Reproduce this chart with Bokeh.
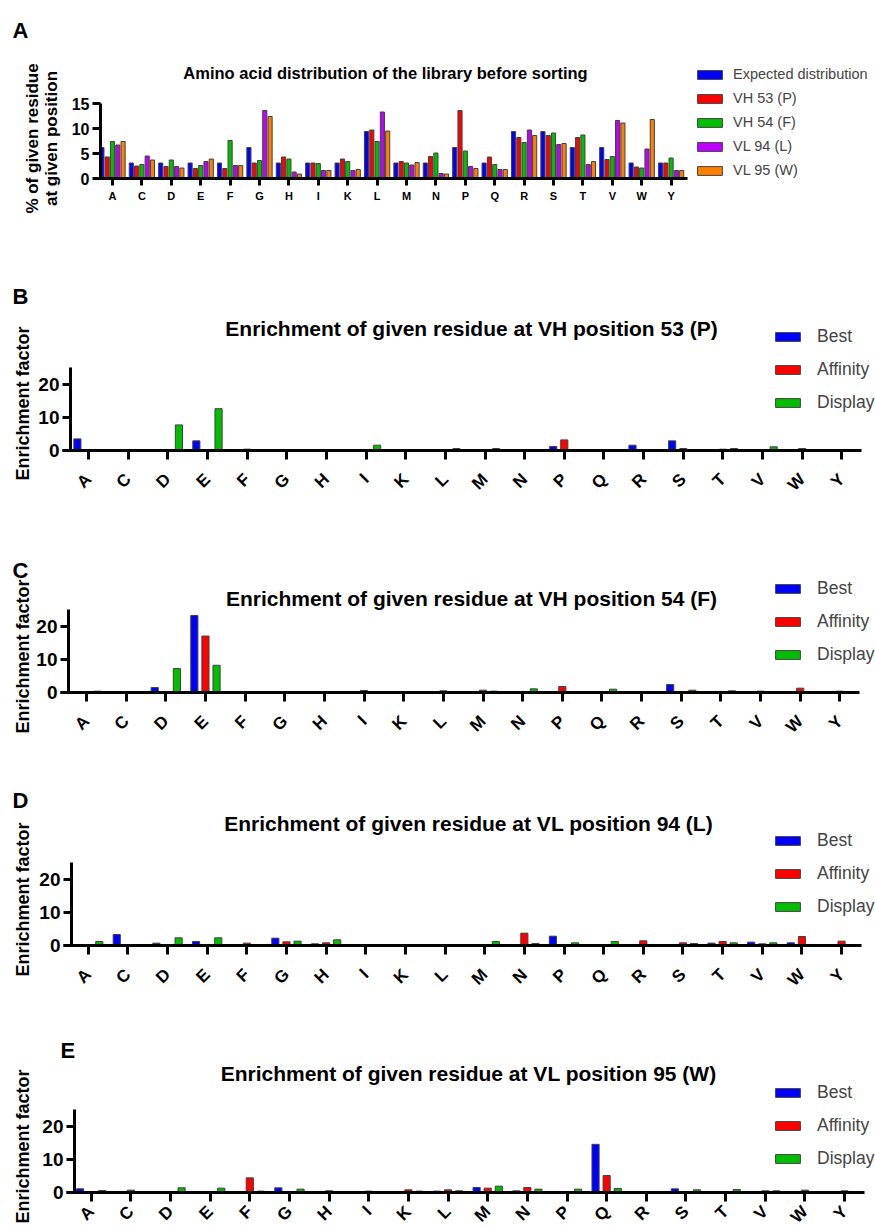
from math import pi
import numpy as np
from bokeh.plotting import figure
from bokeh.models import ColumnDataSource, Range1d, FixedTicker, Label, Legend, LegendItem
from bokeh.embed import file_html
from bokeh.resources import INLINE

FONT = "Liberation Sans"

aa = ["A", "C", "D", "E", "F", "G", "H", "I", "K", "L",
      "M", "N", "P", "Q", "R", "S", "T", "V", "W", "Y"]

# Panel A: % of given residue at given position
expected = [6.2, 3.1, 3.1, 3.1, 3.1, 6.2, 3.1, 3.1, 3.1, 9.4, 3.1, 3.1, 6.2, 3.1, 9.4, 9.4, 6.2, 6.2, 3.1, 3.1]
vh53 = [4.3, 2.5, 2.4, 2.0, 2.0, 3.1, 4.3, 3.1, 3.9, 9.7, 3.4, 4.4, 13.6, 4.3, 8.2, 8.6, 8.2, 3.8, 2.3, 3.1]
vh54 = [7.4, 2.8, 3.7, 2.6, 7.6, 3.6, 3.9, 3.0, 3.4, 7.4, 3.1, 5.1, 5.5, 2.8, 7.2, 9.1, 8.7, 4.4, 2.1, 4.1]
vl94 = [6.7, 4.5, 2.4, 3.4, 2.6, 13.6, 1.3, 1.6, 1.6, 13.3, 2.7, 1.0, 2.4, 1.8, 9.7, 6.8, 2.8, 11.6, 5.9, 1.6]
vl95 = [7.4, 3.7, 2.1, 3.9, 2.6, 12.4, 0.9, 1.6, 1.8, 9.5, 3.2, 0.9, 2.0, 1.8, 8.6, 7.0, 3.4, 11.1, 11.8, 1.6]
series_a = ["Expected distribution", "VH 53 (P)", "VH 54 (F)", "VL 94 (L)", "VL 95 (W)"]

# Panel B: VH position 53 (P)
b_best = [3.5, 0, 0, 2.9, 0, 0, 0, 0, 0, 0, 0, 0, 1.2, 0, 1.6, 2.9, 0, 0, 0, 0]
b_aff = [0, 0, 0, 0, 0.4, 0, 0, 0, 0, 0, 0, 0, 3.2, 0, 0, 0.6, 0.4, 0, 0.6, 0.3]
b_disp = [0, 0, 7.7, 12.6, 0, 0, 0, 1.6, 0, 0.6, 0.6, 0, 0, 0, 0, 0, 0.6, 1.1, 0, 0.3]

# Panel C: VH position 54 (F)
c_best = [0, 0, 1.5, 23.2, 0, 0, 0, 0, 0, 0, 0, 0, 0.3, 0, 0, 2.4, 0, 0, 0, 0]
c_aff = [0, 0, 0, 17.0, 0, 0, 0, 0.6, 0, 0.5, 0.7, 0, 1.8, 0, 0, 0, 0, 0.4, 1.3, 0.4]
c_disp = [0.4, 0, 7.2, 8.2, 0, 0.3, 0, 0, 0, 0, 0.4, 1.1, 0, 1.0, 0, 0.7, 0.5, 0, 0, 0]

# Panel D: VL position 94 (L)
d_best = [0, 3.4, 0.8, 1.3, 0, 2.3, 0.6, 0, 0, 0, 0, 0, 2.9, 0, 0, 0, 0.8, 1.1, 0.9, 0]
d_aff = [0.3, 0, 0, 0.4, 0.8, 1.2, 0.9, 0, 0, 0, 0, 3.8, 0.4, 0.3, 1.5, 0.9, 1.3, 0.6, 2.8, 1.4]
d_disp = [1.3, 0, 2.4, 2.4, 0.4, 1.4, 1.8, 0.3, 0.3, 0.3, 1.3, 0.7, 0.9, 1.3, 0, 0.7, 0.9, 0.9, 0.4, 0]

# Panel E: VL position 95 (W)
e_best = [1.2, 0, 0, 0, 0, 1.5, 0, 0, 0, 0.5, 1.6, 0.6, 0, 14.6, 0, 1.2, 0, 0, 0, 0]
e_aff = [0, 0.8, 0, 0, 4.5, 0, 0.6, 0.5, 0.9, 0.9, 1.4, 1.6, 0, 5.2, 0.2, 0, 0, 0.6, 0.8, 0.6]
e_disp = [0.7, 0, 1.5, 1.4, 0.5, 1.1, 0, 0, 0.5, 0.6, 2.0, 1.1, 1.1, 1.3, 0, 0.9, 1.0, 0.6, 0, 0]

series_enr = ["Best", "Affinity", "Display"]

COLORS_A = ["#0000FF", "#FF0000", "#00BF00", "#BF00FF", "#FF8000"]
COLORS_E = ["#0000FF", "#FF0000", "#00BF00"]
OUTLINE = "#404040"

W = 875


def make_fig(height, px_unit_x, tick0_px, px_unit_y, zero_px, yaxis_px, xline_px, xline_end,
             ytop, yticks, ytick_fs, xtick_fs, xorient):
    """Frame fills the whole canvas; axes are pinned inside it."""
    x0 = -tick0_px / px_unit_x
    x1 = (W - tick0_px) / px_unit_x
    y0 = -(height - zero_px) / px_unit_y
    y1 = zero_px / px_unit_y
    p = figure(width=W, height=height, x_range=Range1d(x0, x1), y_range=Range1d(y0, y1),
               output_backend="svg", toolbar_location=None,
               min_border=0, min_border_left=0, min_border_right=0,
               min_border_top=0, min_border_bottom=0)
    p.outline_line_color = None
    p.grid.visible = False
    for ax in (p.xaxis[0], p.yaxis[0]):
        ax.axis_line_width = 3
        ax.axis_line_color = "black"
        ax.major_tick_line_width = 3
        ax.major_tick_line_color = "black"
        ax.major_tick_in = 0
        ax.minor_tick_line_color = None
        ax.major_label_text_font = FONT
        ax.major_label_text_font_style = "bold"
        ax.major_label_text_color = "black"
    yax_x = (yaxis_px - tick0_px) / px_unit_x
    p.yaxis.fixed_location = yax_x
    p.yaxis.bounds = (0, ytop)
    p.yaxis.ticker = FixedTicker(ticks=yticks)
    p.yaxis.major_label_text_font_size = ytick_fs
    p.yaxis.major_tick_out = 8
    p.yaxis.major_label_standoff = 3
    p.xaxis.fixed_location = 0
    p.xaxis.bounds = ((xline_px - tick0_px) / px_unit_x, xline_end)
    p.xaxis.ticker = FixedTicker(ticks=list(range(len(aa))))
    p.xaxis.major_label_overrides = {i: a for i, a in enumerate(aa)}
    p.xaxis.major_label_text_font_size = xtick_fs
    p.xaxis.major_label_orientation = xorient
    return p


def add_label(p, x, y, text, size, bold=True, angle=0.0, align="center", lh=1.2):
    p.add_layout(Label(x=x, y=y, x_units="screen", y_units="screen", text=text,
                       text_font=FONT, text_font_size=size,
                       text_font_style="bold" if bold else "normal",
                       text_align=align, text_baseline="middle", angle=angle,
                       text_line_height=lh, text_color="black"))


def add_bars(p, series_list, names, colors, step, width):
    idx = np.arange(len(aa))
    n = len(series_list)
    items = []
    for k, (vals, name, col) in enumerate(zip(series_list, names, colors)):
        off = (k - (n - 1) / 2) * step
        src = ColumnDataSource(dict(x=idx + off, top=vals))
        r = p.vbar(x="x", top="top", width=width, source=src, fill_color=col,
                   line_color=OUTLINE, line_width=1)
        items.append(LegendItem(label=name, renderers=[r]))
    return items


def add_legend(p, items, loc, fs, spacing, standoff):
    lg = Legend(items=items, location=loc, orientation="vertical",
                glyph_width=31, glyph_height=11, label_height=11,
                label_text_font=FONT, label_text_font_size=fs,
                label_standoff=standoff, spacing=spacing, padding=0, margin=0,
                border_line_color=None, background_fill_alpha=0)
    p.add_layout(lg, "center")


# ---------------- Panel A (page rows 0..270) ----------------
HA = 270
pA = make_fig(HA, 29.4, 112, 5.0, 178, 100, 98, 19.56, 15, [0, 5, 10, 15],
              "16px", "11px", "horizontal")
pA.xaxis.major_tick_out = 7
pA.xaxis.major_label_standoff = 4
itemsA = add_bars(pA, [expected, vh53, vh54, vl94, vl95], series_a, COLORS_A, 0.18, 0.14)
add_legend(pA, itemsA, (694, HA - 178), "14.5px", 8, 8)
add_label(pA, 385, HA - 72, "Amino acid distribution of the library before sorting", "16.5px")
add_label(pA, 12, HA - 30, "A", "22px", align="left")
add_label(pA, 41.5, HA - 138, "% of given residue\nat given position", "17px",
          angle=pi / 2, lh=1.0)

# ---------------- Panels B-E ----------------
specs = [
    # fig top(page), height, tick0 px, zero px(page), y-axis px, x-line start px,
    # title, title y, letter, letter pos(page), ylabel y(page), legend bottom y(page),
    # x label standoff, data
    (270, 260, 88.0, 450.0, 70, 62, "Enrichment of given residue at VH position 53 (P)", 328,
     "B", (12, 296), 403, 413, 17, (b_best, b_aff, b_disp)),
    (530, 230, 86.0, 692.0, 68, 60, "Enrichment of given residue at VH position 54 (F)", 598,
     "C", (12, 570), 656, 665, 17, (c_best, c_aff, c_disp)),
    (760, 250, 87.7, 945.3, 71, 63, "Enrichment of given residue at VL position 94  (L)", 823,
     "D", (12, 800), 899, 917, 17, (d_best, d_aff, d_disp)),
    (1010, 217, 90.7, 1192.3, 74, 66, "Enrichment of given residue at VL position 95  (W)", 1073,
     "E", (60, 1050), 1146, 1169, 7, (e_best, e_aff, e_disp)),
]
figs = [pA]
for (top, h, t0, zp, yax, xl, title, ty, letter, lpos, yly, legb, xso, data) in specs:
    p = make_fig(h, 39.65, t0, 3.32, zp - top, yax, xl, 19.5, 25, [0, 10, 20],
                 "19px", "17px", pi / 4)
    p.xaxis.major_tick_out = 9
    p.xaxis.major_label_standoff = xso
    items = add_bars(p, list(data), series_enr, COLORS_E, 0.28, 0.18)
    bottom = top + h
    add_legend(p, items, (772, bottom - legb), "17.5px", 12, 14)
    add_label(p, 471, bottom - ty, title, "21px")
    add_label(p, lpos[0], bottom - lpos[1], letter, "22px", align="left")
    add_label(p, 22, bottom - yly, "Enrichment factor", "18px", angle=pi / 2)
    figs.append(p)

open("out.html", "w").write(file_html(figs, INLINE))
